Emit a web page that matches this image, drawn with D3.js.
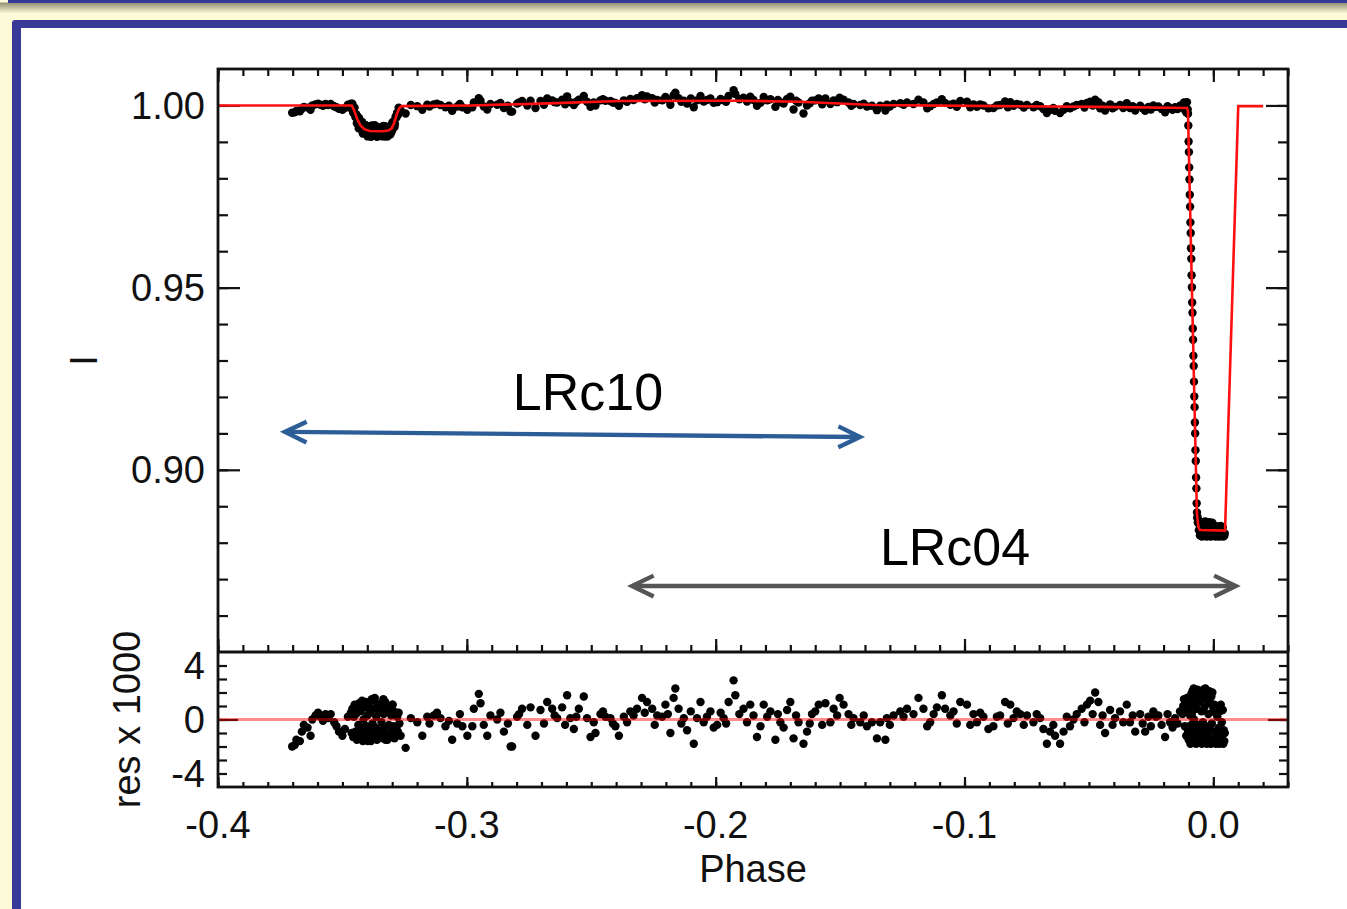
<!DOCTYPE html>
<html><head><meta charset="utf-8">
<script src="https://cdn.jsdelivr.net/npm/d3@7"></script>
<style>body{margin:0;background:#fdfbd7;}svg{display:block;}</style>
</head><body><svg id="c" width="1347" height="909"></svg>
<script>
// ---------- tick labels ----------
const phaseTicks = [-0.4,-0.3,-0.2,-0.1,0.0];
const phaseTickLabels = ["-0.4","-0.3","-0.2","-0.1","0.0"];
const fluxTicks = [0.90,0.95,1.00];
const fluxTickLabels = ["0.90","0.95","1.00"];
const resTicks = [-4,0,4];
const resTickLabels = ["-4","0","4"];

// ---------- data: [phase, relative flux, residual x 1000] ----------
const preSecondary = [
[-0.3702,0.9980,-2.0],[-0.3692,0.9981,-1.9],[-0.3685,0.9985,-1.5],[-0.3671,0.9984,-1.6],
[-0.3663,0.9991,-0.9],[-0.3655,0.9996,-0.4],[-0.3640,0.9994,-0.6],[-0.3628,0.9988,-1.2],
[-0.3621,1.0000,0.0],[-0.3608,1.0003,0.3],[-0.3598,1.0005,0.5],[-0.3588,1.0002,0.2],
[-0.3578,0.9999,-0.1],[-0.3568,1.0004,0.4],[-0.3557,1.0001,0.1],[-0.3547,1.0004,0.4],
[-0.3533,0.9998,-0.2],[-0.3524,0.9995,-0.5],[-0.3514,0.9991,-0.9],[-0.3500,0.9988,-1.2],
[-0.3490,0.9993,-0.7],[-0.3478,1.0002,0.2]];

const secondaryEclipse = [
[-0.3466,1.0005,0.5],[-0.3463,0.9990,-1.0],[-0.3460,1.0005,0.8],[-0.3457,0.9980,-1.3],
[-0.3454,0.9990,0.2],[-0.3451,0.9994,1.1],[-0.3448,0.9968,-0.9],[-0.3445,0.9976,0.4],
[-0.3442,0.9951,-1.5],[-0.3439,0.9970,0.9],[-0.3436,0.9953,-0.4],[-0.3433,0.9965,1.2],
[-0.3430,0.9937,-1.2],[-0.3427,0.9951,0.6],[-0.3424,0.9936,-0.7],[-0.3421,0.9955,1.4],
[-0.3418,0.9923,-1.6],[-0.3415,0.9936,0.0],[-0.3412,0.9944,0.9],[-0.3409,0.9923,-1.1],
[-0.3406,0.9946,1.3],[-0.3403,0.9927,-0.5],[-0.3400,0.9935,0.3],[-0.3397,0.9917,-1.4],
[-0.3394,0.9941,1.0],[-0.3391,0.9922,-0.8],[-0.3388,0.9935,0.5],[-0.3385,0.9914,-1.6],
[-0.3382,0.9945,1.5],[-0.3379,0.9927,-0.3],[-0.3376,0.9938,0.8],[-0.3373,0.9918,-1.2],
[-0.3370,0.9946,1.6],[-0.3367,0.9924,-0.6],[-0.3364,0.9931,0.2],[-0.3361,0.9914,-1.5],
[-0.3358,0.9940,1.1],[-0.3355,0.9920,-0.9],[-0.3352,0.9935,0.6],[-0.3349,0.9916,-1.3],
[-0.3346,0.9938,0.9],[-0.3343,0.9927,-0.2],[-0.3340,0.9941,1.2],[-0.3337,0.9915,-1.4],
[-0.3334,0.9933,0.4],[-0.3331,0.9923,-0.7],[-0.3328,0.9943,1.3],[-0.3325,0.9919,-1.1],
[-0.3322,0.9937,0.7],[-0.3319,0.9915,-1.5],[-0.3316,0.9941,1.0],[-0.3313,0.9927,-0.4],
[-0.3310,0.9940,0.8],[-0.3307,0.9921,-1.3],[-0.3304,0.9939,0.3],[-0.3301,0.9929,-0.9],
[-0.3298,0.9954,1.1],[-0.3295,0.9942,-0.5],[-0.3292,0.9958,0.6],[-0.3289,0.9949,-1.0],
[-0.3286,0.9970,0.4],[-0.3283,0.9967,-0.6],[-0.3280,0.9980,0.2],[-0.3277,0.9974,-0.9],
[-0.3274,0.9994,0.5],[-0.3271,0.9990,-0.3]];

const secondaryEclipseDense = [
[-0.34435,0.9972,0.7],[-0.34345,0.9937,-1.4],[-0.34255,0.9954,1.0],[-0.34165,0.9931,-0.6],
[-0.34075,0.9946,1.2],[-0.33985,0.9915,-1.6],[-0.33895,0.9936,0.6],[-0.33805,0.9920,-1.0],
[-0.33715,0.9944,1.4],[-0.33625,0.9916,-1.3],[-0.33535,0.9939,1.0],[-0.33445,0.9921,-0.8],
[-0.33355,0.9944,1.5],[-0.33265,0.9915,-1.5],[-0.33175,0.9939,0.9],[-0.33085,0.9921,-1.2],
[-0.32995,0.9951,1.1],[-0.32905,0.9941,-1.4]];

const postSecondary = [
[-0.3266,0.9986,-1.2],[-0.3246,0.9978,-2.1],[-0.3225,1.0001,0.1],[-0.3199,0.9998,-0.2],
[-0.3179,0.9988,-1.2],[-0.3159,1.0002,0.2],[-0.3133,1.0003,0.3],[-0.3106,1.0001,0.1],
[-0.3086,0.9995,-0.5],[-0.3059,0.9985,-1.5],[-0.3039,0.9997,-0.3],[-0.3018,0.9995,-0.5],
[-0.2998,0.9988,-1.2],[-0.2978,0.9995,-0.5],[-0.2972,1.0008,0.8],[-0.2952,1.0020,1.9],
[-0.2945,1.0013,1.2],[-0.2918,0.9989,-1.2],[-0.2905,1.0004,0.3],[-0.2878,1.0002,0.0],
[-0.2851,0.9993,-0.9],[-0.2824,0.9983,-2.0],[-0.2818,0.9983,-2.0],[-0.2798,1.0005,0.2],
[-0.2778,1.0012,0.8],[-0.2757,1.0000,-0.4],[-0.2744,1.0013,0.9],[-0.2724,0.9993,-1.2],
[-0.2704,1.0012,0.7],[-0.2677,1.0019,1.3],[-0.2657,1.0014,0.8],[-0.2637,1.0008,0.1],
[-0.2617,1.0016,0.9],[-0.2597,1.0025,1.8],[-0.2584,1.0009,0.1],[-0.2570,1.0001,-0.7],
[-0.2550,1.0016,0.8],[-0.2530,1.0026,1.7],[-0.2517,1.0010,0.1],[-0.2503,0.9996,-1.3],
[-0.2483,1.0000,-1.0],[-0.2463,1.0014,0.4],[-0.2443,1.0013,0.2],[-0.2423,1.0012,0.1],
[-0.2403,1.0007,-0.5],[-0.2389,0.9999,-1.2],[-0.2369,1.0014,0.2],[-0.2343,1.0018,0.6],
[-0.2316,1.0020,0.8],[-0.2296,1.0028,1.6],[-0.2276,1.0025,1.3],[-0.2255,1.0020,0.8],
[-0.2235,1.0015,0.3],[-0.2215,1.0014,0.2],[-0.2202,1.0023,1.1],[-0.2182,1.0002,-1.0],
[-0.2169,1.0028,1.6],[-0.2162,1.0035,2.3],[-0.2149,1.0020,0.8],[-0.2128,1.0013,0.1],
[-0.2115,1.0005,-0.8],[-0.2088,0.9995,-1.8],[-0.2075,1.0014,0.1],[-0.2061,1.0026,1.3],
[-0.2048,1.0011,-0.2],[-0.2021,1.0019,0.6],[-0.1994,1.0009,-0.4],[-0.1968,1.0014,0.1],
[-0.1948,1.0026,1.3],[-0.1928,1.0042,2.9],[-0.1921,1.0031,1.8],[-0.1888,1.0021,0.8],
[-0.1874,1.0011,-0.2],[-0.1861,1.0024,1.1],[-0.1834,0.9999,-1.3],[-0.1807,1.0023,1.1],
[-0.1780,1.0017,0.6],[-0.1760,0.9996,-1.5],[-0.1740,1.0009,-0.2],[-0.1713,1.0018,0.7],
[-0.1700,1.0024,1.3],[-0.1687,0.9989,-1.4],[-0.1667,1.0008,-0.2],[-0.1647,0.9978,-1.8],
[-0.1633,1.0000,-0.9],[-0.1613,1.0013,0.4],[-0.1586,1.0019,1.1],[-0.1559,1.0019,1.2],
[-0.1539,1.0004,-0.2],[-0.1526,1.0014,0.8],[-0.1502,1.0021,1.6],[-0.1486,1.0016,1.1],
[-0.1466,1.0008,0.4],[-0.1446,1.0004,0.1],[-0.1419,1.0001,-0.2],[-0.1392,0.9997,-0.5],
[-0.1372,0.9999,-0.2],[-0.1352,0.9987,-1.4],[-0.1339,0.9999,-0.2],[-0.1318,0.9986,-1.5],
[-0.1312,1.0002,0.1],[-0.1285,1.0004,0.3],[-0.1258,1.0006,0.6],[-0.1231,1.0008,0.8],
[-0.1205,1.0004,0.4],[-0.1185,1.0016,1.6],[-0.1165,1.0008,0.8],[-0.1138,0.9998,-0.2],
[-0.1111,1.0008,0.9],[-0.1091,1.0017,1.8],[-0.1078,1.0007,0.8],[-0.1057,1.0002,0.3],
[-0.1031,0.9996,-0.3],[-0.1017,1.0012,1.3],[-0.0990,1.0010,1.1],[-0.0964,1.0003,0.4],
[-0.0950,0.9996,-0.2],[-0.0924,1.0000,0.2],[-0.0904,0.9992,-0.7],[-0.0884,0.9993,-0.5],
[-0.0857,1.0001,0.3],[-0.0837,1.0011,1.3],[-0.0816,1.0009,1.1],[-0.0803,0.9999,0.1],
[-0.0776,1.0002,0.4],[-0.0749,1.0001,0.3],[-0.0723,0.9995,-0.2],[-0.0696,0.9998,0.1],
[-0.0683,0.9990,-0.7],[-0.0669,0.9979,-1.8],[-0.0656,0.9988,-0.9],[-0.0636,0.9985,-1.2],
[-0.0616,0.9979,-1.8],[-0.0602,0.9988,-0.9],[-0.0576,0.9992,-0.5],[-0.0562,0.9997,0.0],
[-0.0549,1.0001,0.4],[-0.0529,1.0004,0.8],[-0.0508,1.0007,1.1],[-0.0495,1.0010,1.4],
[-0.0475,1.0016,2.0],[-0.0462,1.0009,1.3],[-0.0455,0.9992,-0.4],[-0.0435,0.9986,-1.0],
[-0.0415,1.0003,0.7],[-0.0395,0.9996,0.1],[-0.0375,1.0001,0.6],[-0.0348,1.0006,1.1],
[-0.0335,0.9993,-0.2],[-0.0314,0.9986,-0.9],[-0.0294,0.9999,0.4],[-0.0274,0.9985,-0.9],
[-0.0261,0.9996,0.2],[-0.0241,1.0000,0.6],[-0.0221,0.9997,0.3],[-0.0194,0.9981,-1.3],
[-0.0174,0.9992,-0.2],[-0.0154,0.9995,0.1],[-0.0134,0.9999,0.6]];

const postSecondaryDense = [
[-0.3150,0.9997,-0.3],[-0.3120,1.0005,0.5],[-0.3072,0.9999,-0.1],[-0.3028,1.0004,0.4],
[-0.2932,0.9997,-0.4],[-0.2865,1.0007,0.5],[-0.2835,0.9999,-0.3],[-0.2790,1.0008,0.4],
[-0.2690,1.0002,-0.3],[-0.2647,1.0009,0.3],[-0.2605,1.0003,-0.4],[-0.2560,1.0010,0.2],
[-0.2490,1.0008,-0.2],[-0.2453,1.0017,0.6],[-0.2413,1.0008,-0.3],[-0.2356,1.0010,-0.2],
[-0.2330,1.0015,0.3],[-0.2285,1.0017,0.5],[-0.2245,1.0008,-0.4],[-0.2192,1.0016,0.4],
[-0.2138,1.0010,-0.3],[-0.2100,1.0019,0.6],[-0.2035,1.0015,0.2],[-0.2008,1.0007,-0.6],
[-0.1980,1.0018,0.5],[-0.1958,1.0010,-0.3],[-0.1905,1.0017,0.4],[-0.1848,1.0015,0.3],
[-0.1820,1.0007,-0.5],[-0.1793,1.0014,0.2],[-0.1750,1.0015,0.4],[-0.1727,1.0005,-0.6],
[-0.1677,1.0013,0.3],[-0.1622,1.0006,-0.3],[-0.1600,1.0014,0.6],[-0.1572,1.0003,-0.4],
[-0.1512,1.0009,0.3],[-0.1455,0.9999,-0.4],[-0.1405,1.0005,0.3],[-0.1300,0.9997,-0.4],
[-0.1245,1.0002,0.2],[-0.1150,0.9992,-0.5],[-0.1124,1.0004,0.4],[-0.1044,1.0005,0.6],
[-0.0977,0.9995,-0.4],[-0.0937,1.0003,0.5],[-0.0870,1.0000,0.2],[-0.0826,0.9995,-0.3],
[-0.0790,1.0004,0.6],[-0.0762,0.9994,-0.4],[-0.0710,1.0001,0.4],[-0.0643,0.9993,-0.4],
[-0.0589,0.9998,0.2],[-0.0518,0.9994,-0.2],[-0.0485,1.0000,0.4],[-0.0445,0.9999,0.3],
[-0.0405,0.9992,-0.4],[-0.0362,0.9993,-0.2],[-0.0324,0.9998,0.3],[-0.0284,0.9992,-0.3],
[-0.0251,0.9989,-0.5],[-0.0231,0.9996,0.2],[-0.0208,0.9990,-0.4],[-0.0184,0.9998,0.4],
[-0.0164,0.9988,-0.6],[-0.0144,0.9990,-0.3]];

const primaryEclipse = [
[-0.0124,0.9998,0.4],[-0.0121,1.0003,1.0],[-0.0118,1.0008,1.5],[-0.0115,0.9988,-0.5],
[-0.0112,1.0006,1.3],[-0.0109,0.9981,-1.2],[-0.0106,1.0009,1.6],
[-0.01030,0.9989,0.6],[-0.01018,0.9977,-0.8],[-0.01006,0.9945,1.2],[-0.00994,0.9901,-1.5],
[-0.00982,0.9872,1.5],[-0.00970,0.9830,-0.5],[-0.00958,0.9797,0.9],[-0.00946,0.9755,-1.2],
[-0.00934,0.9722,0.3],[-0.00922,0.9679,-1.8],[-0.00910,0.9650,1.0],[-0.00898,0.9608,-0.7],
[-0.00886,0.9579,1.9],[-0.00874,0.9534,-1.0],[-0.00862,0.9501,0.4],[-0.00850,0.9459,-1.6],
[-0.00838,0.9431,2.1],[-0.00826,0.9388,-0.3],[-0.00814,0.9357,1.4],[-0.00802,0.9313,-1.3],
[-0.00790,0.9285,2.3],[-0.00778,0.9242,0.0],[-0.00766,0.9201,-1.7],[-0.00754,0.9172,1.7],
[-0.00742,0.9130,-0.6],[-0.00730,0.9100,2.0],[-0.00718,0.9054,-1.4],[-0.00706,0.9024,1.2],
[-0.00694,0.8979,-1.8],[-0.00682,0.8949,0.8],[-0.00670,0.8908,-0.9],[-0.00658,0.8883,1.5],
[-0.00646,0.8868,-1.1],[-0.00634,0.8870,2.2],[-0.00622,0.8856,-0.4],[-0.00610,0.8854,1.8],
[-0.0058,0.8834,-0.6],[-0.0056,0.8851,1.3],[-0.0054,0.8820,-1.5],[-0.0052,0.8855,2.0],
[-0.0050,0.8827,-0.8],[-0.0048,0.8841,0.6],[-0.0046,0.8817,-1.8],[-0.0044,0.8851,1.6],
[-0.0042,0.8833,-0.2],[-0.0040,0.8857,2.2],[-0.0038,0.8822,-1.3],[-0.0036,0.8844,0.9],
[-0.0034,0.8818,-1.7],[-0.0032,0.8858,2.3],[-0.0030,0.8830,-0.5],[-0.0028,0.8849,1.4],
[-0.0026,0.8817,-1.8],[-0.0024,0.8854,1.9],[-0.0022,0.8825,-1.0],[-0.0020,0.8839,0.4],
[-0.0018,0.8819,-1.6],[-0.0016,0.8856,2.1],[-0.0014,0.8828,-0.7],[-0.0012,0.8847,1.2],
[-0.0010,0.8817,-1.8],[-0.0008,0.8852,1.7],[-0.0006,0.8832,-0.3],[-0.0004,0.8855,2.0],
[-0.0002,0.8821,-1.4],[0.0000,0.8843,0.8],[0.0002,0.8818,-1.7],[0.0004,0.8846,1.1],
[0.0006,0.8826,-0.9],[0.0008,0.8840,0.5],[0.0010,0.8817,-1.8],[0.0012,0.8845,1.0],
[0.0014,0.8823,-1.2],[0.0016,0.8837,0.2],[0.0018,0.8819,-1.6],[0.0020,0.8844,0.9],
[0.0022,0.8829,-0.6],[0.0024,0.8817,-1.8],[0.0026,0.8841,0.6],[0.0028,0.8824,-1.1],
[0.0030,0.8846,1.1],[0.0032,0.8818,-1.7],[0.0034,0.8833,-0.2],[0.0036,0.8820,-1.5],
[0.0038,0.8842,0.7],[0.0040,0.8817,-1.8],[0.0042,0.8827,-0.8],[0.0044,0.8819,-1.6],
[0.0046,0.8825,-1.0]];

// ---------- best-fit model: [phase, flux] ----------
const modelCurve = [
[-0.4000,1.0000],[-0.3462,1.0000],[-0.3452,0.9985],[-0.3440,0.9962],[-0.3428,0.9946],
[-0.3412,0.9935],[-0.3390,0.9930],[-0.3340,0.9929],[-0.3315,0.9931],[-0.3302,0.9937],
[-0.3292,0.9952],[-0.3282,0.9975],[-0.3272,0.9992],[-0.3262,0.9998],[-0.2985,1.0000],
[-0.2704,1.0005],[-0.2383,1.0012],[-0.1900,1.0013],[-0.1660,1.0010],[-0.1367,1.0001],
[-0.0857,0.9998],[-0.0455,0.9996],[-0.0106,0.9993],[-0.0102,0.9985],[-0.0066,0.8880],
[-0.0060,0.8843],[-0.0054,0.8835],[0.0047,0.8833],[0.0100,0.9998],[0.0200,0.9998]];

// ---------- annotations (data coordinates of main panel) ----------
const runLRc10 = {label:"LRc10", start:[-0.3731,0.9104], end:[-0.1420,0.9090], labelAt:[-0.2513,0.9164]};
const runLRc04 = {label:"LRc04", start:[-0.2336,0.8681], end:[0.0090,0.8681], labelAt:[-0.1038,0.8739]};

// ---------- drawing ----------
const svg = d3.select("#c");
const FONT = "'Liberation Sans', Arial, Helvetica, sans-serif";
const L = 218, R = 1288, T = 69, MID = 652, B = 787;

// page decoration
const defs = svg.append("defs");
const gr = defs.append("linearGradient").attr("id","shadow").attr("x1",0).attr("y1",0).attr("x2",0).attr("y2",1);
gr.append("stop").attr("offset","0%").attr("stop-color","#8f8c72");
gr.append("stop").attr("offset","100%").attr("stop-color","#fdfbd7");
defs.append("filter").attr("id","soft").append("feGaussianBlur").attr("stdDeviation",0.6);
svg.append("rect").attr("x",0).attr("y",0).attr("width",1347).attr("height",909).attr("fill","#fdfbd7");
svg.append("rect").attr("x",0).attr("y",2.5).attr("width",1347).attr("height",11).attr("fill","url(#shadow)");
svg.append("rect").attr("x",8).attr("y",0).attr("width",1339).attr("height",3).attr("fill","#383a98");
svg.append("rect").attr("x",12).attr("y",20).attr("width",1340).attr("height",895).attr("rx",3).attr("fill","#383a98");
svg.append("rect").attr("x",21).attr("y",28).attr("width",1330).attr("height",885).attr("fill","#ffffff");

const x = d3.scaleLinear().domain([-0.4,0.03]).range([L,R]);
const yM = d3.scaleLinear().domain([0.85,1.01]).range([MID,T]);
const yR = d3.scaleLinear().domain([-5,5]).range([B,MID]);

const phaseMinor = d3.range(-40,4).map(i=>i/100);
const fluxMinor = d3.range(86,101).map(i=>i/100);
const resMinor = d3.range(-4,5);

function ticks(axis, tr, vals, size){
  svg.append("g").attr("transform",tr)
    .call(axis.tickValues(vals).tickSize(size).tickSizeOuter(0).tickFormat(""))
    .call(g=>{g.select(".domain").remove(); g.selectAll("text").remove();
      g.selectAll("line").attr("stroke","#111").attr("stroke-width",2.2);});
}
// main panel x ticks
ticks(d3.axisBottom(x), `translate(0,${T})`, phaseMinor, 7);
ticks(d3.axisBottom(x), `translate(0,${T})`, phaseTicks, 13);
ticks(d3.axisTop(x), `translate(0,${MID})`, phaseMinor, 7);
ticks(d3.axisTop(x), `translate(0,${MID})`, phaseTicks, 13);
// residual x ticks
ticks(d3.axisTop(x), `translate(0,${B})`, phaseMinor, 5);
ticks(d3.axisTop(x), `translate(0,${B})`, phaseTicks, 10);
// main y ticks
ticks(d3.axisRight(yM), `translate(${L},0)`, fluxMinor, 10);
ticks(d3.axisRight(yM), `translate(${L},0)`, fluxTicks, 22);
ticks(d3.axisLeft(yM), `translate(${R},0)`, fluxMinor, 10);
ticks(d3.axisLeft(yM), `translate(${R},0)`, fluxTicks, 22);
// residual y ticks
ticks(d3.axisRight(yR), `translate(${L},0)`, resMinor, 9);
ticks(d3.axisRight(yR), `translate(${L},0)`, [0], 20);
ticks(d3.axisLeft(yR), `translate(${R},0)`, resMinor, 9);
ticks(d3.axisLeft(yR), `translate(${R},0)`, [0], 20);

// data points
const allPoints = [].concat(preSecondary, secondaryEclipse, secondaryEclipseDense, postSecondary, postSecondaryDense, primaryEclipse);
svg.append("g").attr("filter","url(#soft)").selectAll("circle").data(allPoints).join("circle")
  .attr("cx",d=>x(d[0])).attr("cy",d=>yM(d[1])).attr("r",4.2).attr("fill","#000");
svg.append("g").attr("filter","url(#soft)").selectAll("circle").data(allPoints).join("circle")
  .attr("cx",d=>x(d[0])).attr("cy",d=>yR(d[2])).attr("r",4.2).attr("fill","#000");

// model
svg.append("path").datum(modelCurve)
  .attr("d", d3.line().x(d=>x(d[0])).y(d=>yM(d[1])))
  .attr("fill","none").attr("stroke","#ff1010").attr("stroke-width",2.6);
// zero line of residuals
svg.append("line").attr("x1",L).attr("x2",R).attr("y1",yR(0)).attr("y2",yR(0))
  .attr("stroke","#ff0000").attr("stroke-opacity",0.45).attr("stroke-width",2.8);

// frame
svg.append("rect").attr("x",L).attr("y",T).attr("width",R-L).attr("height",B-T)
  .attr("fill","none").attr("stroke","#111").attr("stroke-width",2.8);
svg.append("line").attr("x1",L).attr("x2",R).attr("y1",MID).attr("y2",MID)
  .attr("stroke","#111").attr("stroke-width",2.8);

// labels
const txt = (s, px, py, anchor, size) => svg.append("text").text(s).attr("x",px).attr("y",py)
  .attr("text-anchor",anchor).attr("font-family",FONT).attr("font-size",size).attr("fill","#111");
phaseTicks.forEach((v,i)=>txt(phaseTickLabels[i], x(v), 838, "middle", 38));
fluxTicks.forEach((v,i)=>txt(fluxTickLabels[i], 205, yM(v)+13.5, "end", 38));
resTicks.forEach((v,i)=>txt(resTickLabels[i], 205, yR(v)+13.5, "end", 38));
txt("Phase", (L+R)/2, 882, "middle", 38);
svg.append("text").text("I").attr("transform",`translate(97,${(T+MID)/2}) rotate(-90)`)
  .attr("text-anchor","middle").attr("font-family",FONT).attr("font-size",38).attr("fill","#111");
svg.append("text").text("res x 1000").attr("transform",`translate(140,${(MID+B)/2}) rotate(-90)`)
  .attr("text-anchor","middle").attr("font-family",FONT).attr("font-size",38).attr("fill","#111");

// arrows
function arrow(run, color){
  const x1=x(run.start[0]), y1=yM(run.start[1]), x2=x(run.end[0]), y2=yM(run.end[1]);
  const g = svg.append("g").attr("fill","none").attr("stroke",color).attr("stroke-width",4.4)
    .attr("stroke-linejoin","miter").attr("stroke-linecap","butt");
  g.append("line").attr("x1",x1+2).attr("y1",y1).attr("x2",x2-2).attr("y2",y2);
  const ang = Math.atan2(y2-y1, x2-x1);
  const head = (px,py,a)=>{
    const len=24, spread=0.45;
    const p1=[px-len*Math.cos(a-spread), py-len*Math.sin(a-spread)];
    const p2=[px-len*Math.cos(a+spread), py-len*Math.sin(a+spread)];
    g.append("path").attr("d",`M${p1[0]},${p1[1]}L${px},${py}L${p2[0]},${p2[1]}`);
  };
  head(x2,y2,ang); head(x1,y1,ang+Math.PI);
  svg.append("text").text(run.label).attr("x",x(run.labelAt[0])).attr("y",yM(run.labelAt[1]))
    .attr("text-anchor","middle").attr("font-family",FONT).attr("font-size",52).attr("fill","#000");
}
arrow(runLRc10, "#2c5d96");
arrow(runLRc04, "#555555");
</script></body></html>
